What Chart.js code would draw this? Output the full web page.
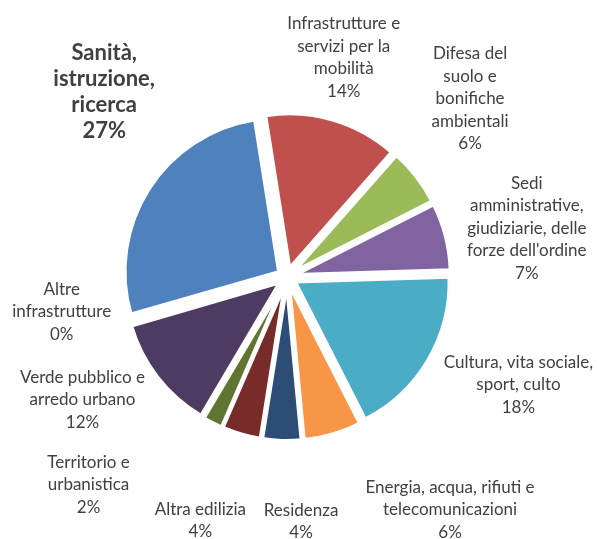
<!DOCTYPE html>
<html>
<head>
<meta charset="utf-8">
<script src="https://cdn.jsdelivr.net/npm/chart.js@4/dist/chart.umd.min.js"></script>
<style>
  html, body { margin: 0; padding: 0; background: #fff; }
  #wrap { width: 597px; height: 539px; }
</style>
</head>
<body>
<div id="wrap"><canvas id="pie"></canvas></div>
<script>
// data, clockwise from the slice right of 12 o'clock
const categories = [
  "Infrastrutture e servizi per la mobilità",
  "Difesa del suolo e bonifiche ambientali",
  "Sedi amministrative, giudiziarie, delle forze dell'ordine",
  "Cultura, vita sociale, sport, culto",
  "Energia, acqua, rifiuti e telecomunicazioni",
  "Residenza",
  "Altra edilizia",
  "Territorio e urbanistica",
  "Verde pubblico e arredo urbano",
  "Altre infrastrutture",
  "Sanità, istruzione, ricerca"
];
const shares = [14, 6, 7, 18, 6, 4, 4, 2, 12, 0.05, 26.95];

// how the label text wraps (same order as categories)
const labelLines = [
  ["Infrastrutture e", "servizi per la", "mobilità"],
  ["Difesa del", "suolo e", "bonifiche", "ambientali"],
  ["Sedi", "amministrative,", "giudiziarie, delle", "forze dell'ordine"],
  ["Cultura, vita sociale,", "sport, culto"],
  ["Energia, acqua, rifiuti e", "telecomunicazioni"],
  ["Residenza"],
  ["Altra edilizia"],
  ["Territorio e", "urbanistica"],
  ["Verde pubblico e", "arredo urbano"],
  ["Altre", "infrastrutture"],
  ["Sanità,", "istruzione,", "ricerca"]
];

const colors = ["#C0504D", "#9BBB59", "#8064A2", "#4BACC6", "#F79646", "#2C4D75",
                "#772C2A", "#5F7530", "#4D3B62", "#276A7C", "#4F81BD"];

// label placement: [angle from 12 o'clock in deg, distance in radii]
const labelPlace = [[14.5, 1.49], [45.8, 1.68], [78.5, 1.61], [115, 1.68], [145, 1.87],
                    [176.7, 1.61], [199.6, 1.70], [223.7, 1.89], [239, 1.57], [261.2, 1.50], [315.3, 1.71]];
const boldIdx = 10;
const explode = 10;
const edge = 3;

// push each slice outward along its middle angle (plain shift, no growth)
const explodePlugin = {
  id: "explode",
  beforeDatasetDraw(chart) {
    chart.getDatasetMeta(0).data.forEach(arc => {
      if (arc._exploded) return;
      arc._exploded = true;
      arc.draw = function (ctx) {
        const mid = (this.startAngle + this.endAngle) / 2;
        ctx.save();
        ctx.translate(Math.cos(mid) * explode, Math.sin(mid) * explode);
        Chart.ArcElement.prototype.draw.call(this, ctx);
        ctx.restore();
      };
    });
  }
};

const labelPlugin = {
  id: "sliceLabels",
  afterDraw(chart) {
    const ctx = chart.ctx;
    const arc0 = chart.getDatasetMeta(0).data[0];
    const cx = arc0.x, cy = arc0.y, r = arc0.outerRadius - edge / 2;
    ctx.save();
    ctx.fillStyle = "#404040";
    ctx.textAlign = "center";
    ctx.textBaseline = "middle";
    shares.forEach((v, i) => {
      const lines = labelLines[i].concat([Math.round(v) + "%"]);
      const bold = i === boldIdx;
      const lh = bold ? 26 : 22.5;
      ctx.font = bold ? "bold 22px Lato" : "17px Lato";
      const a = labelPlace[i][0] * Math.PI / 180;
      const d = labelPlace[i][1] * r;
      const x = cx + d * Math.sin(a);
      const y = cy - d * Math.cos(a);
      const top = y - (lines.length - 1) * lh / 2;
      lines.forEach((t, k) => ctx.fillText(t, x, top + k * lh));
    });
    ctx.restore();
  }
};

new Chart(document.getElementById("pie"), {
  type: "pie",
  data: {
    labels: categories,
    datasets: [{
      data: shares,
      backgroundColor: colors,
      borderColor: "#ffffff",
      borderWidth: edge,
      borderJoinStyle: "bevel",
      offset: 0,
      hoverOffset: 0
    }]
  },
  options: {
    responsive: true,
    maintainAspectRatio: false,
    animation: false,
    rotation: -9,
    radius: 152 + edge / 2,
    layout: { padding: { left: 0, right: 23, top: 15, bottom: 0 } },
    plugins: { legend: { display: false }, tooltip: { enabled: false } }
  },
  plugins: [explodePlugin, labelPlugin]
});
</script>
</body>
</html>
